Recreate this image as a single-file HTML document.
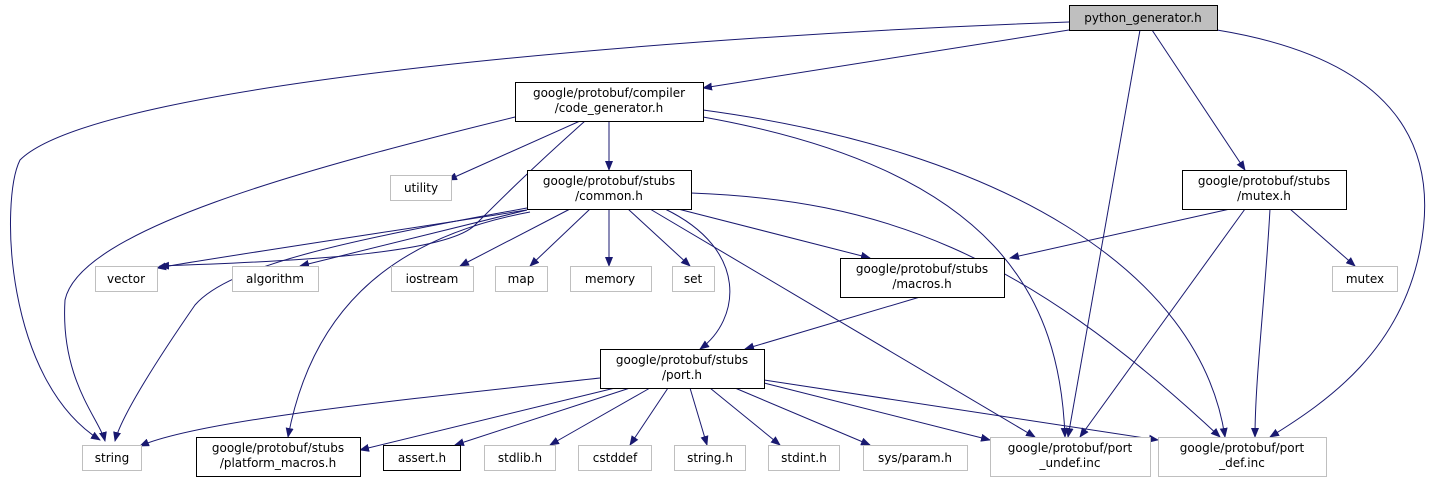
<!DOCTYPE html>
<html><head><meta charset="utf-8"><style>
html,body{margin:0;padding:0;background:#fff;}
svg{display:block;}
text{font-family:"DejaVu Sans","Liberation Sans",sans-serif;font-size:12px;fill:#000;}
</style></head><body>
<svg width="1440" height="484" viewBox="0 0 1440 484" xmlns="http://www.w3.org/2000/svg">
<defs><marker id="a" markerWidth="10" markerHeight="8" refX="9" refY="4" orient="auto" markerUnits="userSpaceOnUse"><path d="M0,0 L10,4 L0,8 z" fill="#191970"/></marker></defs>
<g fill="none" stroke="#191970" stroke-width="1" marker-end="url(#a)">
<path d="M1069,22 C700,35 100,80 20,160 C0,200 5,380 100,440"/>
<path d="M1069,30 L703,88"/>
<path d="M1140,30 L1068,437"/>
<path d="M1152,30 L1245,170"/>
<path d="M1217,30 C1400,60 1440,150 1420,250 C1400,350 1330,400 1270,437"/>
<path d="M515,117 C300,170 80,230 65,300 C60,380 100,420 105,441"/>
<path d="M580,121 L448,180"/>
<path d="M585,121 C530,170 500,200 475,225 C445,255 280,262 160,266"/>
<path d="M609,121 L609,170"/>
<path d="M703,117 C1000,170 1060,300 1065,437"/>
<path d="M703,110 C1000,150 1200,270 1225,437"/>
<path d="M527,210 C400,230 200,260 157,268"/>
<path d="M527,210 L300,266"/>
<path d="M527,208 C350,240 230,265 195,305 C150,370 120,420 115,441"/>
<path d="M530,212 C380,240 310,320 288,437"/>
<path d="M570,209 L460,266"/>
<path d="M590,209 L530,266"/>
<path d="M609,209 L609,266"/>
<path d="M628,209 L690,266"/>
<path d="M665,209 C750,250 740,320 700,349"/>
<path d="M678,209 L870,258"/>
<path d="M650,209 L1035,437"/>
<path d="M691,193 C880,200 1020,250 1220,437"/>
<path d="M1230,209 L1010,258"/>
<path d="M1245,209 L1080,437"/>
<path d="M1270,209 C1265,300 1255,380 1255,437"/>
<path d="M1290,209 L1355,266"/>
<path d="M920,297 L745,349"/>
<path d="M600,378 C400,400 200,420 140,446"/>
<path d="M615,388 L360,450"/>
<path d="M630,388 L455,445"/>
<path d="M650,388 L550,445"/>
<path d="M668,388 L630,445"/>
<path d="M690,388 L707,445"/>
<path d="M710,388 L780,445"/>
<path d="M735,388 L870,445"/>
<path d="M764,383 L990,440"/>
<path d="M764,380 L1158,440"/>
</g>
<g stroke-width="1">
<rect x="1069.5" y="5.5" width="148" height="25" fill="#bfbfbf" stroke="#000"/>
<rect x="515.5" y="82.5" width="188" height="39" fill="#fff" stroke="#000"/>
<rect x="390.5" y="175.5" width="61" height="25" fill="#fff" stroke="#bfbfbf"/>
<rect x="527.5" y="170.5" width="164" height="39" fill="#fff" stroke="#000"/>
<rect x="1182.5" y="170.5" width="164" height="39" fill="#fff" stroke="#000"/>
<rect x="95.5" y="266.5" width="62" height="25" fill="#fff" stroke="#bfbfbf"/>
<rect x="232.5" y="266.5" width="86" height="25" fill="#fff" stroke="#bfbfbf"/>
<rect x="391.5" y="266.5" width="82" height="25" fill="#fff" stroke="#bfbfbf"/>
<rect x="495.5" y="266.5" width="52" height="25" fill="#fff" stroke="#bfbfbf"/>
<rect x="570.5" y="266.5" width="81" height="25" fill="#fff" stroke="#bfbfbf"/>
<rect x="672.5" y="266.5" width="42" height="25" fill="#fff" stroke="#bfbfbf"/>
<rect x="840.5" y="258.5" width="164" height="39" fill="#fff" stroke="#000"/>
<rect x="1332.5" y="266.5" width="65" height="25" fill="#fff" stroke="#bfbfbf"/>
<rect x="600.5" y="349.5" width="164" height="39" fill="#fff" stroke="#000"/>
<rect x="82.5" y="445.5" width="59" height="25" fill="#fff" stroke="#bfbfbf"/>
<rect x="196.5" y="437.5" width="164" height="39" fill="#fff" stroke="#000"/>
<rect x="383.5" y="445.5" width="77" height="25" fill="#fff" stroke="#000"/>
<rect x="484.5" y="445.5" width="71" height="25" fill="#fff" stroke="#bfbfbf"/>
<rect x="578.5" y="445.5" width="73" height="25" fill="#fff" stroke="#bfbfbf"/>
<rect x="674.5" y="445.5" width="71" height="25" fill="#fff" stroke="#bfbfbf"/>
<rect x="768.5" y="445.5" width="71" height="25" fill="#fff" stroke="#bfbfbf"/>
<rect x="863.5" y="445.5" width="104" height="25" fill="#fff" stroke="#bfbfbf"/>
<rect x="990.5" y="437.5" width="160" height="39" fill="#fff" stroke="#bfbfbf"/>
<rect x="1158.5" y="437.5" width="168" height="39" fill="#fff" stroke="#bfbfbf"/>
</g>
<g text-anchor="middle">
<text x="1143" y="22">python_generator.h</text>
<text x="609" y="97">google/protobuf/compiler</text><text x="609" y="112">/code_generator.h</text>
<text x="421" y="192">utility</text>
<text x="609" y="185">google/protobuf/stubs</text><text x="609" y="200">/common.h</text>
<text x="1264" y="185">google/protobuf/stubs</text><text x="1264" y="200">/mutex.h</text>
<text x="126" y="283">vector</text>
<text x="275" y="283">algorithm</text>
<text x="432" y="283">iostream</text>
<text x="521" y="283">map</text>
<text x="610" y="283">memory</text>
<text x="693" y="283">set</text>
<text x="922" y="273">google/protobuf/stubs</text><text x="922" y="288">/macros.h</text>
<text x="1365" y="283">mutex</text>
<text x="682" y="364">google/protobuf/stubs</text><text x="682" y="379">/port.h</text>
<text x="112" y="462">string</text>
<text x="278" y="452">google/protobuf/stubs</text><text x="278" y="467">/platform_macros.h</text>
<text x="422" y="462">assert.h</text>
<text x="520" y="462">stdlib.h</text>
<text x="615" y="462">cstddef</text>
<text x="710" y="462">string.h</text>
<text x="804" y="462">stdint.h</text>
<text x="915" y="462">sys/param.h</text>
<text x="1070" y="452">google/protobuf/port</text><text x="1070" y="467">_undef.inc</text>
<text x="1242" y="452">google/protobuf/port</text><text x="1242" y="467">_def.inc</text>
</g>
</svg>
</body></html>
